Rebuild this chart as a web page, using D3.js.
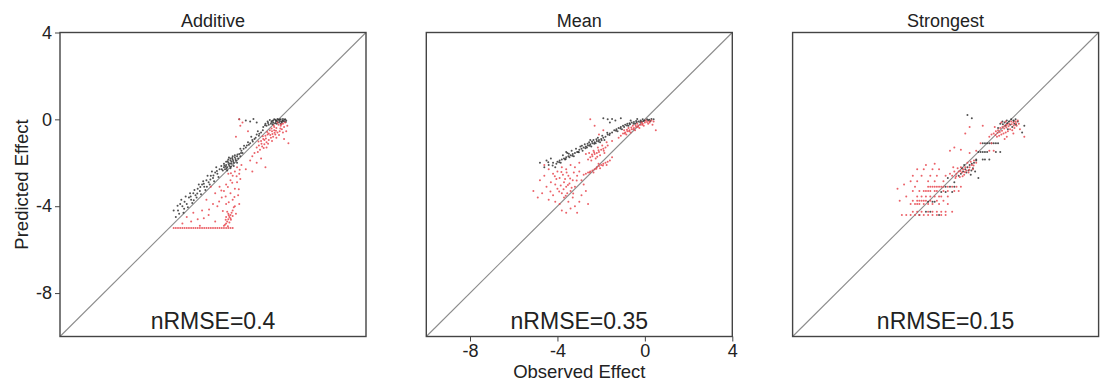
<!DOCTYPE html>
<html>
<head>
<meta charset="utf-8">
<script src="https://cdn.jsdelivr.net/npm/d3@7"></script>
<style>
  body { margin: 0; background: #fff; }
  text { font-family: "Liberation Sans", Arial, sans-serif; fill: #222; }
</style>
</head>
<body>
<svg id="chart" width="1102" height="383"></svg>
<script>
// panel titles + score labels
const titles = ['Additive', 'Mean', 'Strongest'];
const scores = ['nRMSE=0.4', 'nRMSE=0.35', 'nRMSE=0.15'];
const ticks = [-8, -4, 0, 4];

// Additive: [observed, predicted]
const additiveBlack = [
  [0.3,0],[0.2,-0.05],[0.1,0],[0,-0.02],[-0.1,-0.05],[-0.2,0],[-0.3,-0.08],[-0.4,-0.03],[-0.5,-0.1],[0.25,-0.1],
  [0.15,-0.15],[0.05,-0.08],[-0.05,-0.12],[-0.15,-0.18],[-0.25,-0.15],[-0.35,-0.2],[-0.45,-0.25],[0.35,-0.05],[0.2,0.02],[-0.6,-0.2],
  [-0.55,-0.3],[-0.7,-0.35],[0.1,-0.2],[-0.05,0.02],[-0.15,-0.02],[-0.25,-0.05],[0.28,-0.02],[0.05,-0.01],
  [-0.12,-0.07],[-0.33,-0.12],[0.02,-0.14],[0.18,-0.07],[-0.48,-0.17],[-0.62,-0.27],[-0.27,-0.23],[0.33,-0.12],[-0.08,-0.2],[0.12,-0.1],
  [-1.8,0],[-1.5,-0.05],[-1.3,-0.1],[-1.15,0.02],[-1.0,-0.15],
  [-0.8,-0.6],[-0.9,-0.75],[-1.0,-0.7],[-1.1,-0.9],[-1.2,-0.95],[-1.3,-1.1],[-1.4,-1.05],[-1.5,-1.3],[-1.6,-1.35],[-1.7,-1.45],
  [-1.25,-0.8],[-1.05,-0.85],[-0.95,-0.55],[-1.45,-1.2],[-1.65,-1.55],[-1.75,-1.35],
  [-1.58,-1.22],[-1.36,-1.17],[-1.18,-1.02],[-0.88,-0.66],[-0.72,-0.5],
  [-1.8,-1.6],[-1.9,-1.7],[-2.0,-1.75],[-2.1,-1.85],[-2.2,-1.9],[-2.3,-2.0],[-2.4,-2.1],[-2.5,-2.2],[-2.6,-2.3],[-1.85,-1.8],
  [-1.95,-1.9],[-2.05,-2.0],[-2.15,-2.05],[-2.25,-2.15],[-2.35,-2.2],[-2.45,-2.3],[-2.0,-1.65],[-2.1,-1.7],[-2.2,-1.8],[-2.3,-1.85],
  [-2.4,-1.95],[-2.5,-2.05],[-1.9,-2.0],[-2.05,-2.15],[-2.2,-2.25],[-2.35,-2.35],[-2.15,-1.95],[-2.28,-2.08],[-2.42,-2.18],[-1.75,-1.7],
  [-2.12,-1.78],[-2.33,-1.93],[-1.97,-1.83],[-2.48,-2.12],[-2.22,-2.03],[-2.07,-1.92],[-2.38,-2.27],[-2.55,-2.35],[-2.62,-2.15],[-1.88,-1.62],
  [-2.18,-2.18],[-2.27,-1.76],[-1.72,-1.55],
  [-2.7,-2.3],[-2.8,-2.5],[-2.9,-2.45],[-3.0,-2.7],[-3.1,-2.6],[-3.2,-2.9],[-3.3,-2.8],[-3.4,-3.1],[-3.5,-3.0],[-3.6,-3.3],
  [-3.7,-3.2],[-3.8,-3.5],[-3.9,-3.4],[-4.0,-3.7],[-4.1,-3.6],[-4.2,-3.9],[-4.3,-3.8],[-4.4,-4.0],[-4.5,-3.9],[-4.6,-4.2],
  [-2.75,-2.65],[-2.95,-2.85],[-3.15,-3.0],[-3.35,-3.25],[-3.55,-3.45],[-3.75,-3.6],[-3.95,-3.85],[-4.15,-4.05],[-4.35,-4.3],
  [-2.85,-2.2],[-3.05,-2.4],[-3.25,-2.6],[-3.45,-2.85],[-3.65,-3.0],[-3.85,-3.25],[-4.05,-3.4],[-4.25,-3.55],[-4.45,-3.7],
  [-3.12,-2.77],[-3.42,-2.97],[-3.72,-3.42],[-4.02,-3.55],[-3.58,-3.12],[-2.98,-2.58],[-4.32,-4.12],[-4.55,-4.35],[-3.88,-3.72],[-3.28,-3.1],
  [-2.82,-2.38],[-4.62,-3.98],[-4.7,-4.5],[-4.8,-4.2]
];
const additiveRed = [
  [0.3,-0.15],[0.2,-0.2],[0.1,-0.3],[0,-0.25],[-0.1,-0.4],[-0.2,-0.35],[-0.3,-0.55],[-0.4,-0.5],[-0.5,-0.7],[-0.6,-0.75],
  [-0.7,-0.9],[-0.8,-1.0],[-0.9,-1.2],[-1.0,-1.3],[0.15,-0.45],[0.05,-0.55],[-0.05,-0.6],[-0.15,-0.7],[-0.25,-0.8],[-0.35,-0.85],
  [-0.45,-0.95],[-0.55,-1.05],[-0.65,-1.15],[-0.75,-1.25],[-0.85,-1.4],[0.25,-0.35],[-0.05,-0.15],[-0.2,-0.5],[-0.45,-0.65],[-0.65,-0.95],
  [-0.3,-1.0],[-0.1,-0.85],[0.2,-0.6],[0.4,-0.3],[0.35,-0.55],[-0.55,-1.3],[-0.95,-1.5],[-1.1,-1.55],[0.25,-0.9],[0.45,-1.1],
  [-0.18,-0.62],[-0.38,-0.72],[-0.58,-0.88],[-0.78,-1.12],[-0.22,-0.28],[0.08,-0.42],[-0.48,-1.12],[-0.68,-1.32],[-0.12,-0.52],[0.12,-0.22],
  [-0.32,-0.42],[-0.52,-0.58],[-0.72,-0.78],[-0.92,-1.02],[0.02,-0.72],[-0.28,-0.68],
  [-1.8,0],[-1.75,-0.3],[-1.65,-0.15],[-1.95,-0.8],[-1.4,-0.55],[-1.2,-1.7],
  [-1.3,-1.9],[-1.0,-2.0],[-0.8,-1.8],[-1.5,-2.3],[-0.6,-2.2],[-1.2,-2.4],
  [-1.9,-2.2],[-2.0,-2.4],[-2.1,-2.6],[-2.2,-2.8],[-1.8,-2.5],[-1.7,-2.1],[-2.3,-2.5],[-2.4,-3.0],[-1.9,-2.9],[-2.0,-3.2],
  [-2.2,-3.4],[-2.5,-3.3],[-2.7,-3.1],[-1.75,-2.75],[-1.85,-3.5],[-2.1,-3.7],[-2.6,-3.6],[-2.9,-3.4],[-3.0,-3.9],[-3.3,-3.7],
  [-3.5,-4.2],[-2.8,-4.0],[-3.2,-4.4],[-3.7,-4.6],[-2.4,-3.9],[-2.0,-4.0],[-1.8,-3.9],[-3.9,-4.3],[-4.2,-4.5],[-4.4,-4.8],
  [-4.0,-4.7],[-3.6,-4.9],[-2.9,-4.7],[-3.1,-3.1],
  [-1.92,-2.62],[-2.12,-2.92],[-2.32,-3.12],[-1.82,-3.22],[-2.42,-3.55],[-2.02,-3.58],[-2.62,-3.28],[-2.18,-2.48],[-1.78,-2.32],[-2.28,-3.82],
  [-2.72,-3.78],[-3.18,-4.15],[-2.55,-4.22],[-3.42,-4.55],[-1.95,-4.35],
  [-2.1,-4.2],[-2.15,-4.3],[-2.2,-4.4],[-2.25,-4.5],[-2.3,-4.6],[-2.35,-4.7],[-2.4,-4.8],[-2.45,-4.85],[-2.2,-4.55],[-2.3,-4.35],
  [-2.1,-4.45],[-2.25,-4.75],[-2.4,-4.5],[-2.5,-4.9],[-2.05,-4.05],[-2.35,-4.25],[-2.32,-4.92],[-2.18,-4.62],[-2.42,-4.62],[-2.28,-4.42],
  [-4.8,-5],[-4.7,-5],[-4.6,-5],[-4.5,-5],[-4.4,-5],[-4.3,-5],[-4.2,-5],[-4.1,-5],[-4.0,-5],[-3.9,-5],
  [-3.8,-5],[-3.7,-5],[-3.6,-5],[-3.5,-5],[-3.4,-5],[-3.3,-5],[-3.2,-5],[-3.1,-5],[-3.0,-5],[-2.9,-5],
  [-2.8,-5],[-2.7,-5],[-2.6,-5],[-2.5,-5],[-2.4,-5],[-2.3,-5],[-2.2,-5],[-2.1,-5]
];

// Mean
const meanBlack = [
  [0.4,0],[0.3,0.02],[0.2,-0.02],[0.1,0],[0,-0.05],[-0.1,0],[-0.2,-0.05],[-0.3,-0.1],[-0.4,-0.08],[-0.5,-0.12],
  [-0.6,-0.15],[-0.7,-0.18],[-0.8,-0.2],[-0.9,-0.25],[-1.0,-0.3],[-1.1,-0.35],[-1.2,-0.4],[-1.3,-0.45],[0.25,-0.08],[-0.15,-0.1],
  [-0.45,-0.2],[-0.75,-0.3],[-1.05,-0.45],[-1.25,-0.55],[-0.35,0.02],[-0.65,-0.05],
  [-0.22,-0.12],[-0.52,-0.2],[-0.82,-0.28],[-1.12,-0.42],[0.15,-0.04],[-0.05,-0.08],[-0.38,-0.15],[-0.68,-0.22],[-0.95,-0.35],[-1.32,-0.52],
  [-1.9,0.05],[-1.7,0],[-1.5,0.02],[-1.35,-0.05],[-1.1,0.05],[-1.6,-0.15],
  [-1.4,-0.5],[-1.5,-0.6],[-1.6,-0.65],[-1.7,-0.7],[-1.8,-0.8],[-1.9,-0.85],[-2.0,-0.9],[-2.1,-0.95],[-2.2,-1.0],[-2.3,-1.05],
  [-2.4,-1.1],[-2.5,-1.15],[-2.6,-1.2],[-2.7,-1.25],[-2.8,-1.3],[-2.9,-1.35],[-3.0,-1.4],[-3.1,-1.5],[-3.2,-1.55],[-3.3,-1.6],
  [-3.4,-1.65],[-3.5,-1.7],[-3.6,-1.75],[-3.7,-1.8],[-3.8,-1.85],[-3.9,-1.9],[-4.0,-1.95],[-4.2,-2.0],[-4.4,-2.1],[-4.6,-2.2],
  [-1.85,-0.95],[-2.05,-1.05],[-2.25,-1.1],[-2.45,-1.25],[-2.65,-1.3],[-2.85,-1.45],[-3.05,-1.5],[-3.25,-1.7],[-3.45,-1.75],[-3.65,-1.85],
  [-3.85,-2.0],[-4.05,-2.05],[-2.15,-0.85],[-2.35,-0.95],[-2.55,-1.05],[-2.75,-1.15],[-2.95,-1.25],[-3.15,-1.35],[-3.35,-1.45],[-3.55,-1.55],
  [-3.75,-1.65],[-4.3,-1.8],[-4.5,-1.9],[-1.95,-0.75],[-2.5,-0.95],[-3.6,-1.5],[-4.1,-2.2],[-4.8,-2.0],
  [-2.12,-1.02],[-2.32,-1.12],[-2.52,-1.22],[-2.72,-1.33],[-1.98,-0.96],[-2.62,-1.12],[-2.42,-1.02],[-2.22,-0.92],[-3.02,-1.52],[-3.32,-1.68],
  [-3.62,-1.82],[-3.92,-1.98],[-4.22,-2.12],[-2.88,-1.22],[-3.48,-1.58],[-4.42,-1.98],[-1.62,-0.72],[-1.72,-0.62]
];
const meanRed = [
  [0.3,-0.05],[0.2,-0.1],[0.1,-0.12],[0,-0.15],[-0.1,-0.2],[-0.2,-0.25],[-0.3,-0.3],[-0.4,-0.35],[-0.5,-0.4],[-0.6,-0.45],
  [-0.7,-0.5],[-0.8,-0.55],[-0.9,-0.6],[-1.0,-0.65],[0.15,-0.2],[-0.05,-0.3],[-0.25,-0.4],[-0.45,-0.5],[-0.65,-0.6],[-0.85,-0.7],
  [-0.35,-0.2],[-0.55,-0.3],[-0.75,-0.4],[-0.95,-0.5],[0.05,-0.05],[0.4,-0.1],[0.35,-0.25],[0.5,-0.5],[-1.1,-0.75],[-1.2,-0.85],
  [-0.12,-0.25],[-0.32,-0.35],[-0.52,-0.45],[-0.72,-0.55],[-0.92,-0.65],[-0.15,-0.15],[-0.42,-0.28],[-0.62,-0.38],[0.22,-0.15],[-0.82,-0.48],
  [-2.5,0],[-2.3,-0.3],[-1.9,-0.5],[-2.1,-0.7],[-1.5,-1.0],
  [-1.7,-1.2],[-1.8,-1.3],[-1.9,-1.35],[-2.0,-1.4],[-2.1,-1.5],[-2.2,-1.55],[-2.3,-1.6],[-2.4,-1.7],[-2.5,-1.75],[-2.6,-1.85],
  [-1.75,-1.05],[-1.95,-1.2],[-2.15,-1.3],[-2.35,-1.45],[-2.55,-1.55],[-2.05,-1.65],[-2.25,-1.8],[-2.45,-1.9],[-1.85,-1.55],[-2.7,-1.6],
  [-2.12,-1.42],[-2.32,-1.52],[-1.88,-1.45],[-2.42,-1.62],[-2.18,-1.72],
  [-1.6,-1.9],[-1.7,-1.95],[-1.8,-2.0],[-1.9,-2.05],[-2.0,-2.1],[-2.1,-2.15],[-2.2,-2.2],[-2.3,-2.3],[-2.4,-2.35],[-2.5,-2.4],
  [-2.6,-2.45],[-2.7,-2.5],[-2.8,-2.55],[-1.75,-2.1],[-2.05,-2.25],[-2.35,-2.45],[-1.5,-1.75],[-1.92,-2.12],[-2.22,-2.28],[-2.52,-2.45],
  [-2.12,-2.05],
  [-3.0,-2.0],[-3.2,-2.2],[-3.4,-2.1],[-3.6,-2.3],[-3.8,-2.2],[-4.0,-2.4],[-4.2,-2.5],[-4.4,-2.3],[-4.6,-2.6],[-4.8,-2.8],
  [-3.1,-2.6],[-3.3,-2.8],[-3.5,-2.6],[-3.7,-2.9],[-3.9,-2.7],[-4.1,-3.0],[-4.3,-2.9],[-4.5,-3.1],[-3.2,-3.1],[-3.4,-3.3],
  [-3.6,-3.1],[-3.8,-3.4],[-4.0,-3.2],[-4.2,-3.5],[-3.3,-3.6],[-3.5,-3.8],[-3.7,-3.6],[-3.9,-3.9],[-3.4,-4.1],[-3.6,-4.3],
  [-3.2,-4.0],[-2.9,-3.5],[-2.8,-3.0],[-3.0,-3.8],[-2.7,-3.3],[-5.1,-3.3],[-4.9,-3.6],[-4.7,-3.4],[-4.4,-3.7],[-4.1,-3.8],
  [-3.0,-2.4],[-2.9,-2.8],[-3.75,-2.55],[-3.55,-3.4],[-3.25,-2.45],[-4.05,-2.75],[-3.45,-2.95],[-3.65,-2.75],[-3.85,-3.05],[-3.35,-3.15],
  [-3.72,-3.22],[-3.52,-3.02],[-3.92,-3.32],[-3.42,-2.72],[-3.82,-2.42],[-4.12,-2.62],[-3.62,-3.52],[-3.28,-3.42],[-3.12,-2.82],[-4.32,-3.32],
  [-3.58,-2.45],[-4.6,-2.1],[-2.6,-3.9],[-3.8,-4.2],[-3.1,-4.3]
];

// Strongest
const strongBlack = [
  [0.2,0],[0.1,-0.05],[0,0],[-0.1,-0.1],[-0.2,-0.05],[-0.3,-0.15],[-0.4,-0.1],[-0.5,-0.2],[0.15,-0.2],[-0.05,-0.25],
  [-0.25,-0.3],[0.3,-0.1],[-0.6,-0.4],[-0.15,-0.45],[0.05,-0.35],[-2.0,0.2],[-1.8,0.05],[0.5,-0.6],[0.6,-0.3],
  [0.12,-0.08],[-0.18,-0.18],[-0.38,-0.22],[0.22,-0.25],
  [-1.3,-1.1],[-1.2,-1.1],[-1.1,-1.1],[-1.0,-1.1],[-0.9,-1.1],[-0.8,-1.1],[-0.7,-1.1],[-0.6,-1.1],
  [-1.5,-1.5],[-1.4,-1.5],[-1.3,-1.5],[-1.2,-1.5],[-1.1,-1.5],[-0.7,-1.5],[-0.5,-1.5],
  [-1.6,-1.85],[-1.3,-1.85],[-1.2,-1.85],[-1.0,-1.85],
  [-1.6,-1.9],[-1.7,-2.0],[-1.8,-2.05],[-1.9,-2.1],[-2.0,-2.2],[-2.1,-2.3],[-2.2,-2.4],[-2.3,-2.5],[-1.75,-2.25],[-1.95,-2.35],
  [-2.15,-2.1],[-1.65,-2.4],[-2.4,-2.6],[-1.5,-2.7],[-1.85,-2.55],[-2.05,-2.45],[-2.25,-2.25],[-1.82,-2.35],
  [-3.0,-3.1],[-2.8,-3.1],[-2.6,-3.1],[-3.2,-3.35],[-3.0,-3.35],[-2.7,-3.35],[-3.8,-3.8],[-3.6,-3.8],[-3.5,-3.8],[-3.9,-4.25],
  [-3.7,-4.25],[-2.9,-2.7],[-2.6,-2.9],[-3.3,-4.4],[-4.2,-4.4]
];
const strongRed = [
  [0.3,-0.05],[0.2,-0.1],[0.1,-0.15],[0,-0.1],[-0.1,-0.2],[-0.2,-0.25],[-0.3,-0.3],[-0.4,-0.35],[-0.5,-0.4],[-0.6,-0.5],
  [-0.7,-0.55],[-0.8,-0.65],[0.25,-0.3],[0.15,-0.4],[0.05,-0.5],[-0.05,-0.45],[-0.15,-0.55],[-0.25,-0.6],[-0.35,-0.65],[-0.45,-0.7],
  [-0.55,-0.75],[-0.65,-0.8],[-0.9,-0.7],[-1.0,-0.8],[0.35,-0.2],[0.4,-0.45],[-0.25,-0.1],[-0.45,-0.15],[-0.75,-0.35],[0.1,-0.65],
  [-0.2,-0.8],[-1.9,-0.35],[-2.1,-0.65],[-1.3,-0.3],[0.6,-0.8],[-0.3,-0.9],
  [-0.12,-0.32],[-0.32,-0.42],[-0.52,-0.58],[-0.72,-0.72],[0.12,-0.28],[-0.22,-0.38],[-0.42,-0.52],[0.22,-0.18],[-0.62,-0.62],[0.02,-0.22],
  [-1.4,-1.1],[-0.9,-1.1],[-1.6,-1.45],[-1.0,-1.45],[-0.8,-1.45],[-1.9,-1.55],[-2.3,-1.4],[-2.6,-1.3],[-2.8,-1.45],
  [-1.6,-2.0],[-1.7,-1.9],[-1.8,-2.1],[-1.9,-2.2],[-2.0,-2.0],[-2.1,-2.2],[-2.2,-2.3],[-2.3,-2.2],[-2.4,-2.4],[-2.5,-2.5],
  [-2.6,-2.4],[-2.7,-2.6],[-1.75,-2.3],[-1.95,-2.45],[-2.15,-2.55],[-2.35,-2.65],[-2.55,-2.7],[-2.05,-2.35],[-2.25,-2.45],[-2.45,-2.25],
  [-2.8,-2.5],[-1.85,-1.95],[-2.65,-2.2],[-2.12,-2.42],[-2.32,-2.38],[-1.92,-2.32],[-2.52,-2.62],[-2.22,-2.62],[-1.72,-2.12],
  [-4.3,-2.3],[-4.0,-2.3],[-3.6,-2.3],[-3.3,-2.3],
  [-4.5,-2.6],[-4.1,-2.6],[-3.7,-2.6],[-3.4,-2.6],[-3.0,-2.6],
  [-4.6,-2.85],[-4.3,-2.85],[-3.8,-2.85],[-3.5,-2.85],[-3.1,-2.85],
  [-3.8,-3.1],[-3.7,-3.1],[-3.6,-3.1],[-3.5,-3.1],[-3.4,-3.1],[-3.3,-3.1],[-3.2,-3.1],[-3.1,-3.1],[-2.9,-3.1],[-2.7,-3.1],
  [-2.5,-3.1],[-2.3,-3.1],[-4.4,-3.1],
  [-4.5,-3.3],[-4.2,-3.3],[-4.0,-3.3],[-3.9,-3.3],[-3.8,-3.3],[-3.7,-3.3],[-3.5,-3.3],[-3.4,-3.3],[-3.1,-3.3],[-2.9,-3.3],
  [-2.6,-3.3],[-2.4,-3.3],
  [-4.3,-3.55],[-4.1,-3.55],[-3.9,-3.55],[-3.7,-3.55],[-3.5,-3.55],[-3.3,-3.55],[-3.2,-3.55],[-2.9,-3.55],[-4.8,-3.55],
  [-4.5,-3.75],[-4.3,-3.75],[-4.2,-3.75],[-4.1,-3.75],[-4.0,-3.75],[-3.9,-3.75],[-3.7,-3.75],[-3.4,-3.75],[-3.1,-3.75],[-5.1,-3.75],
  [-4.6,-3.9],[-4.4,-3.9],[-4.3,-3.9],[-4.2,-3.9],[-4.0,-3.9],[-3.8,-3.9],[-3.6,-3.9],[-3.3,-3.9],[-2.9,-3.9],
  [-4.5,-4.25],[-4.3,-4.25],[-4.1,-4.25],[-3.8,-4.25],[-3.6,-4.25],[-3.4,-4.25],[-3.2,-4.25],[-3.0,-4.25],[-2.7,-4.25],
  [-5.0,-4.4],[-4.8,-4.4],[-4.6,-4.4],[-4.4,-4.4],[-4.2,-4.4],[-4.0,-4.4],[-3.8,-4.4],[-3.6,-4.4],[-3.4,-4.4],[-3.2,-4.4],
  [-3.0,-4.4],[-5.2,-3.2],[-4.9,-3.0],[-3.9,-2.1],[-3.5,-2.05]
];

const panels = [
  {black: additiveBlack, red: additiveRed},
  {black: meanBlack, red: meanRed},
  {black: strongBlack, red: strongRed}
];

const svg = d3.select('#chart');
const size = {w: 306, h: 304, top: 32.5, step: 366.3, left: 60};
const x = d3.scaleLinear().domain([-10, 4]).range([0, size.w]);
const y = d3.scaleLinear().domain([-10, 4]).range([size.h, 0]);
const font = '"Liberation Sans", Arial, sans-serif';

panels.forEach((p, i) => {
  const g = svg.append('g')
    .attr('transform', `translate(${size.left + i * size.step},${size.top})`);

  g.append('line')
    .attr('x1', x(-10)).attr('y1', y(-10))
    .attr('x2', x(4)).attr('y2', y(4))
    .attr('stroke', '#8c8c8c')
    .attr('stroke-width', 1.1);

  g.selectAll('circle.b')
    .data(p.black)
    .join('circle')
    .attr('class', 'b')
    .attr('cx', d => x(d[0]))
    .attr('cy', d => y(d[1]))
    .attr('r', 1)
    .attr('fill', '#333')
    .attr('opacity', 0.85);

  g.selectAll('circle.r')
    .data(p.red)
    .join('circle')
    .attr('class', 'r')
    .attr('cx', d => x(d[0]))
    .attr('cy', d => y(d[1]))
    .attr('r', 1)
    .attr('fill', '#e8474f')
    .attr('opacity', 0.85);

  g.append('rect')
    .attr('width', size.w).attr('height', size.h)
    .attr('fill', 'none')
    .attr('stroke', '#444')
    .attr('stroke-width', 1.4);

  g.append('text')
    .attr('x', size.w / 2).attr('y', -6)
    .attr('text-anchor', 'middle')
    .attr('font-size', 18)
    .text(titles[i]);

  g.append('text')
    .attr('x', size.w / 2).attr('y', 296)
    .attr('text-anchor', 'middle')
    .attr('font-size', 23)
    .attr('fill', '#111')
    .text(scores[i]);

  if (i === 0) {
    const ay = g.append('g')
      .call(d3.axisLeft(y).tickValues(ticks).tickSize(5).tickPadding(3).tickFormat(d => String(d)));
    ay.select('.domain').remove();
    ay.selectAll('line').attr('stroke', '#444');
    ay.selectAll('text').attr('font-size', 18).attr('fill', '#222').style('font-family', font);
  }
  if (i === 1) {
    const ax = g.append('g')
      .attr('transform', `translate(0,${size.h})`)
      .call(d3.axisBottom(x).tickValues(ticks).tickSize(5).tickPadding(3).tickFormat(d => String(d)));
    ax.select('.domain').remove();
    ax.selectAll('line').attr('stroke', '#444');
    ax.selectAll('text').attr('font-size', 18).attr('fill', '#222').style('font-family', font);
    g.append('text')
      .attr('x', size.w / 2).attr('y', size.h + 41)
      .attr('text-anchor', 'middle')
      .attr('font-size', 18.5)
      .text('Observed Effect');
  }
});

svg.append('text')
  .attr('transform', `translate(28,${size.top + size.h / 2}) rotate(-90)`)
  .attr('text-anchor', 'middle')
  .attr('font-size', 18.5)
  .text('Predicted Effect');
</script>
</body>
</html>
